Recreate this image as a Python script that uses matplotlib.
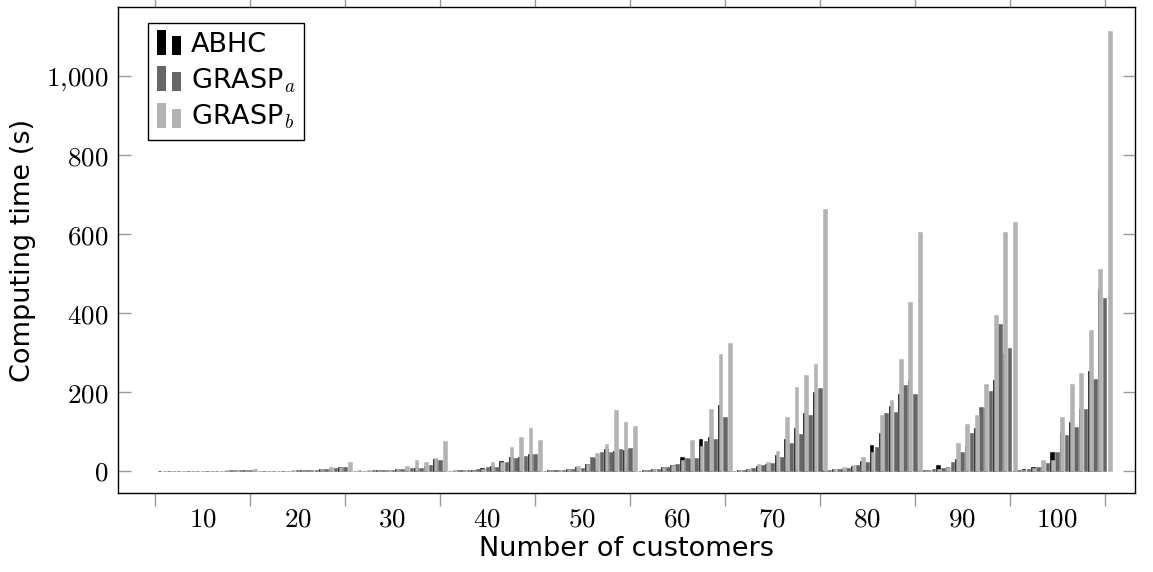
import matplotlib
matplotlib.use("Agg")
import matplotlib.pyplot as plt
import numpy as np
from matplotlib.legend_handler import HandlerBase
from matplotlib.patches import Rectangle

# Computing time (s) per instance, 10 instances per customer-count class
sizes = [10, 20, 30, 40, 50, 60, 70, 80, 90, 100]
abhc = [
    0.2, 0.2, 0.3, 0.3, 0.4, 0.5, 0.7, 1.0, 1.5, 2.0,
    0.4, 0.5, 0.6, 0.8, 1.0, 1.5, 2.5, 4.0, 6.0, 9.0,
    1.0, 1.0, 1.0, 1.5, 2.0, 4.0, 6.0, 7.0, 12.0, 30.0,
    1.0, 1.0, 2.0, 3.0, 7.0, 12.0, 26.0, 36.0, 36.0, 44.0,
    1.0, 2.0, 3.0, 4.0, 10.0, 17.0, 34.0, 56.0, 50.0, 52.0,
    1.0, 3.0, 5.0, 10.0, 15.0, 35.0, 30.0, 82.0, 85.0, 167.0,
    1.0, 3.0, 6.0, 12.0, 18.0, 40.0, 81.0, 110.0, 146.0, 199.0,
    2.0, 4.0, 6.0, 12.0, 25.0, 66.0, 95.0, 165.0, 196.0, 230.0,
    1.0, 2.0, 15.0, 10.0, 30.0, 63.0, 108.0, 160.0, 230.0, 300.0,
    1.0, 4.0, 11.0, 10.0, 49.0, 95.0, 125.0, 158.0, 252.0, 461.0,
]
grasp_a = [
    0.3, 0.3, 0.4, 0.5, 0.6, 0.8, 1.0, 1.5, 2.0, 3.0,
    0.5, 0.5, 0.7, 1.0, 1.5, 2.0, 3.0, 5.0, 7.0, 11.0,
    1.0, 1.0, 1.5, 2.0, 3.0, 4.0, 8.0, 7.0, 15.0, 28.0,
    1.0, 1.5, 2.0, 5.0, 9.0, 11.0, 24.0, 34.0, 38.0, 43.0,
    1.0, 2.0, 3.0, 5.0, 7.5, 36.0, 47.0, 49.0, 55.0, 57.0,
    1.0, 3.0, 6.0, 11.0, 17.0, 32.0, 32.0, 76.0, 82.0, 137.0,
    1.0, 3.0, 8.0, 15.0, 21.0, 35.0, 72.0, 93.0, 141.0, 209.0,
    3.0, 5.0, 8.0, 16.0, 24.0, 60.0, 147.0, 150.0, 217.0, 194.0,
    2.0, 4.0, 8.0, 22.0, 47.0, 97.0, 162.0, 202.0, 371.0, 312.0,
    2.0, 4.0, 11.0, 19.0, 49.0, 91.0, 112.0, 156.0, 232.0, 438.0,
]
grasp_b = [
    0.5, 0.5, 0.6, 0.8, 1.0, 1.2, 1.6, 2.0, 3.0, 4.0,
    1.0, 1.0, 1.2, 1.5, 2.0, 3.0, 5.0, 9.0, 11.0, 23.0,
    1.5, 2.0, 2.5, 3.0, 5.0, 12.0, 28.0, 24.0, 34.0, 77.0,
    1.5, 2.0, 3.0, 6.0, 22.0, 22.0, 60.0, 85.0, 109.0, 78.0,
    2.0, 3.0, 4.0, 12.0, 17.0, 45.0, 68.0, 154.0, 125.0, 114.0,
    2.0, 5.0, 10.0, 15.0, 28.0, 78.0, 63.0, 156.0, 295.0, 325.0,
    2.0, 4.0, 18.0, 24.0, 50.0, 137.0, 213.0, 242.0, 270.0, 663.0,
    4.0, 10.0, 16.0, 36.0, 49.0, 141.0, 179.0, 283.0, 427.0, 606.0,
    3.0, 6.0, 11.0, 72.0, 119.0, 141.0, 221.0, 396.0, 606.0, 630.0,
    3.0, 8.0, 28.0, 28.0, 137.0, 220.0, 248.0, 358.0, 512.0, 1115.0,
]

names = ["ABHC", r"GRASP$_a$", r"GRASP$_b$"]
colors = ["#000000", "#666666", "#b3b3b3"]

plt.rcParams["mathtext.fontset"] = "cm"
plt.rcParams["font.family"] = ["DejaVu Sans"]

W, H = 1153, 572
fig = plt.figure(figsize=(W / 100, H / 100), dpi=100)
left, right, top, bottom = 118, 1135, 7, 493
ax = fig.add_axes([left / W, (H - bottom) / H, (right - left) / W, (bottom - top) / H])

x = np.arange(1, len(abhc) + 1)
shift = 0.537
width = 0.38
for k, (vals, off) in enumerate(zip([abhc, grasp_a, grasp_b], [-shift, 0.0, shift])):
    ax.bar(x + off, vals, width=width, color=colors[k], edgecolor=colors[k],
           linewidth=0.4, label=names[k], zorder=2 + k)

ax.set_xlim(-3.9, 103.2)
ax.set_ylim(-55.7, 1174.7)

# class boundaries as ticks, class sizes centred between them
ax.set_xticks(np.arange(0, 101, 10))
ax.set_xticklabels([])
ax.set_xticks(np.arange(5, 100, 10), minor=True)
ax.set_xticklabels([rf"${s}$" for s in sizes], minor=True)
ax.tick_params(axis="x", which="major", direction="out", length=9, width=1.0,
               color="#999999", top=True)
ax.tick_params(axis="x", which="minor", length=0, labelsize=19.5, pad=10)

yt = [0, 200, 400, 600, 800, 1000]
ax.set_yticks(yt)
ax.set_yticklabels([r"$0$", r"$200$", r"$400$", r"$600$", r"$800$", r"$1{,}000$"])
ax.tick_params(axis="y", direction="in", length=9, width=1.0, color="#999999",
               right=True, labelsize=19.5, pad=7)

for sp in ax.spines.values():
    sp.set_linewidth(1.0)

ax.set_ylabel("Computing time (s)", fontsize=19.5, labelpad=7)
ax.set_xlabel("Number of customers", fontsize=19.5, labelpad=2)


class TwoBars(HandlerBase):
    def create_artists(self, legend, orig, xd, yd, w, h, fontsize, trans):
        c = orig.patches[0].get_facecolor()
        r1 = Rectangle((xd, yd - 0.15 * h), 0.375 * w, 1.3 * h,
                       facecolor=c, edgecolor="none", transform=trans)
        r2 = Rectangle((xd + 0.625 * w, yd - 0.15 * h), 0.375 * w, 1.0 * h,
                       facecolor=c, edgecolor="none", transform=trans)
        return [r1, r2]


handles, labels = ax.get_legend_handles_labels()
leg = ax.legend(handles, labels, loc="upper left", fontsize=19.5,
                handler_map={h: TwoBars() for h in handles},
                handlelength=0.9, handletextpad=0.35, labelspacing=0.3,
                borderpad=0.33, borderaxespad=0, fancybox=False, framealpha=1,
                edgecolor="black",
                bbox_to_anchor=((148 - left) / (right - left), 1 - (23 - top) / (bottom - top)))
leg.get_frame().set_linewidth(1.0)

fig.savefig("out.png", dpi=100)
